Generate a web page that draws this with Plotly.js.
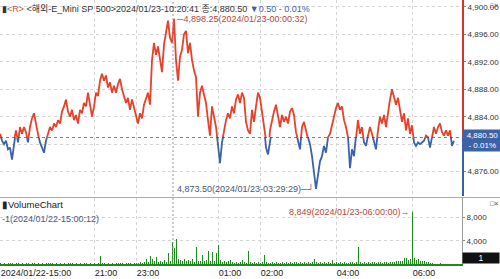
<!DOCTYPE html>
<html><head><meta charset="utf-8">
<script src="https://cdn.plot.ly/plotly-3.0.1.min.js"></script>
<style>html,body{margin:0;padding:0;background:#fff;}#chart{width:500px;height:279px;}</style>
</head><body><div id="chart"></div>
<script>
// ---- data ----
const basePrice = 4881.00;
const lastPrice = 4880.50;
const price = [
4881.5,4880.5,4880.0,4880.5,4879.25,4879.5,4877.75,4880.5,4882.0,4880.25,
4882.5,4881.5,4882.5,4881.75,4880.25,4882.5,4883.75,4884.5,4882.75,4881.5,
4880.25,4879.5,4878.75,4880.5,4881.5,4882.5,4882.0,4883.0,4882.5,4883.5,
4883.0,4884.75,4885.5,4886.5,4884.75,4884.0,4885.0,4883.5,4884.25,4883.0,
4885.0,4884.5,4886.0,4885.5,4887.5,4886.0,4884.0,4885.5,4887.5,4887.0,
4889.25,4890.25,4889.25,4890.0,4888.25,4889.0,4887.5,4888.5,4887.5,4888.75,
4889.5,4888.0,4887.0,4886.0,4886.75,4885.0,4886.5,4885.25,4884.25,4883.0,
4884.5,4883.75,4885.75,4886.5,4887.5,4885.75,4892.25,4894.75,4893.0,4894.25,
4892.0,4890.5,4894.5,4896.25,4898.0,4895.5,4894.75,4898.25,4892.25,4889.25,
4892.75,4893.75,4896.0,4896.5,4893.25,4894.75,4892.25,4890.75,4889.75,4884.0,
4887.5,4888.5,4887.0,4886.0,4883.5,4881.25,4885.5,4884.0,4882.5,4880.0,
4877.25,4880.25,4882.25,4883.5,4884.5,4883.75,4885.5,4884.5,4886.5,4887.25,
4886.0,4887.5,4886.75,4883.25,4882.0,4881.5,4885.0,4883.25,4885.5,4887.5,
4886.75,4884.75,4882.75,4879.5,4878.5,4882.0,4883.5,4884.75,4885.75,4883.75,
4882.5,4884.25,4883.25,4884.0,4883.0,4884.75,4885.25,4884.25,4881.75,4880.5,
4879.25,4882.5,4883.25,4882.0,4881.0,4880.0,4878.25,4876.25,4873.5,4875.5,
4877.5,4878.25,4879.75,4878.75,4881.0,4881.5,4882.75,4884.0,4885.25,4886.0,
4885.0,4885.5,4883.5,4882.5,4881.0,4876.5,4879.25,4878.25,4881.25,4883.5,
4881.5,4882.5,4880.25,4879.75,4881.25,4882.5,4881.5,4880.5,4879.25,4882.0,
4884.0,4883.0,4884.25,4882.5,4884.75,4886.5,4888.0,4887.0,4885.75,4886.75,
4884.75,4883.25,4884.5,4882.0,4883.75,4881.5,4882.75,4880.25,4879.75,4880.25,
4880.0,4880.25,4880.5,4881.25,4881.0,4879.5,4881.25,4882.5,4881.5,4882.5,
4883.0,4881.75,4881.25,4882.0,4881.25,4882.0,4879.75,4880.5
];
const volume = [
150,80,210,60,120,90,180,40,100,230,
70,140,60,110,190,50,90,160,80,130,
70,200,60,100,150,90,240,60,120,80,
170,70,110,60,140,90,100,80,130,60,
220,70,90,150,60,110,80,130,70,100,
1370,90,150,70,120,80,200,60,110,140,
90,180,70,120,100,160,80,130,90,150,
260,180,320,860,300,1400,900,450,1200,350,
500,300,650,420,1900,600,3830,2700,4240,800,
650,500,900,450,700,550,850,400,2970,600,
450,1550,500,700,2300,600,2100,500,1900,3200,
700,400,550,300,450,700,300,250,400,200,
350,700,300,250,2300,400,250,300,200,350,
250,300,1500,300,200,250,350,200,300,250,
200,300,250,350,200,300,250,400,300,250,
350,200,300,250,300,200,350,800,300,250,
350,200,300,250,300,200,700,250,300,200,
350,250,300,250,200,300,350,250,300,2970,
300,250,350,200,300,250,400,300,250,350,
300,250,300,350,200,300,400,350,450,500,
600,550,1000,1000,700,800,8849,1100,650,800,
500,450,600,350,300,200,100,60,80,50,
90,40,70,50,60,40,50,1
];
const tickIdx = [0, 47, 68, 109, 130, 168, 206];
const tickText = ["2024/01/22-15:00", "21:00", "23:00", "01:00", "02:00", "04:00", "06:00"];
const dateBreakIdx = 86.5;
const maxIdx = 87, maxLabel = "4,898.25(2024/01/23-00:00:32)";
const minIdx = 158, minLabel = "4,873.50(2024/01/23-03:29:29)";
const volMaxIdx = 206, volMaxLabel = "8,849(2024/01/23-06:00:00)";
const priceTicksUp = [4884, 4888, 4892, 4896, 4900];
const priceTicksDown = [4876, 4880];
const volTicks = [4000, 8000];

// ---- layout geometry ----
const W = 500, H = 279;
const plotRight = 462;
const pxPerUnit = 6.865;
const baseY = 137.3, mainBottom = 196, volTop = 198, volBottom = 264;
const idx = price.map((_, i) => i);
const upTop = basePrice + baseY / pxPerUnit;
const downBottom = basePrice - (mainBottom - baseY) / pxPerUnit;
const volPxPer4000 = 23.3;
const volMax = (volBottom - volTop) / volPxPer4000 * 4000;
const py = p => 1 - p / H;

const RED = '#e6412b', BLUE = '#3b63a8', GREEN = '#1e8a1e';
const FONT = 'Liberation Sans, Arial, Noto Sans CJK KR, sans-serif';
const grid = {showgrid: true, gridcolor: '#d4d4d4', griddash: '3px,3px', gridwidth: 1};

const traces = [
  {x: idx, y: price, type: 'scatter', mode: 'lines', xaxis: 'x', yaxis: 'y',
   line: {color: RED, width: 1.8}, hoverinfo: 'skip'},
  {x: idx, y: price, type: 'scatter', mode: 'lines', xaxis: 'x', yaxis: 'y2',
   line: {color: BLUE, width: 1.8}, hoverinfo: 'skip'},
  {x: idx, y: volume, type: 'bar', xaxis: 'x', yaxis: 'y3', width: 0.5,
   marker: {color: GREEN, line: {width: 0}}, hoverinfo: 'skip'}
];

const yCommon = {side: 'right', anchor: 'x', ticks: 'outside', ticklen: 2, tickcolor: '#888',
  tickfont: {family: FONT, size: 8, color: '#333'}, showline: true, linewidth: 2, zeroline: false, fixedrange: true};

const layout = {
  width: W, height: H, margin: {l: 0, r: W - plotRight, t: 0, b: 0},
  paper_bgcolor: '#fff', plot_bgcolor: '#fff', showlegend: false, bargap: 0,
  font: {family: FONT},
  xaxis: Object.assign({domain: [0, 1], range: [0, plotRight / 2], anchor: 'y3',
    tickvals: tickIdx, ticktext: tickText, ticks: '', ticklabelposition: 'outside right',
    tickfont: {family: FONT, size: 9, color: '#222'}, showline: true, linecolor: GREEN, linewidth: 1.5,
    zeroline: false, fixedrange: true}, grid),
  yaxis: Object.assign({}, yCommon, grid, {domain: [py(baseY), 1], range: [basePrice, upTop],
    tickvals: priceTicksUp, tickformat: ',.2f', linecolor: '#d9322a'}),
  yaxis2: Object.assign({}, yCommon, grid, {domain: [py(mainBottom), py(baseY)], range: [downBottom, basePrice],
    tickvals: priceTicksDown, ticktext: ['4,876.00', ''], linecolor: '#3a5fa5'}),
  yaxis3: Object.assign({}, yCommon, grid, {domain: [py(volBottom), py(volTop)], range: [0, volMax],
    tickvals: volTicks, tickformat: ',d', linecolor: '#999', linewidth: 1}),
  shapes: [
    {type: 'line', xref: 'x', yref: 'y2', x0: 0, x1: plotRight / 2, y0: basePrice, y1: basePrice,
     line: {color: '#333', width: 1, dash: '3px,3px'}},
    {type: 'line', xref: 'x', yref: 'paper', x0: dateBreakIdx, x1: dateBreakIdx, y0: py(volBottom), y1: 1,
     line: {color: '#999', width: 1, dash: '2px,2px'}},
    {type: 'line', xref: 'paper', yref: 'paper', x0: 0, x1: W / plotRight, y0: py(197.5), y1: py(197.5),
     line: {color: '#aaa', width: 1}}
  ],
  annotations: [
    {xref: 'paper', yref: 'paper', x: 0, y: py(8), xanchor: 'left', yanchor: 'middle', showarrow: false,
     font: {family: FONT, size: 9, color: '#333'},
     text: '▮<span style="color:#c0504d">&lt;R&gt;</span> &lt;해외-E_Mini SP 500&gt;2024/01/23-10:20:41 종:4,880.50 <span style="color:#3a5fa8">▼0.50 - 0.01%</span>'},
    {xref: 'x', yref: 'y', x: maxIdx, y: price[maxIdx], xanchor: 'left', yanchor: 'middle', showarrow: false,
     font: {family: FONT, size: 9, color: '#b9463a'}, text: '─' + maxLabel},
    {xref: 'x', yref: 'y2', x: minIdx, y: price[minIdx], xanchor: 'right', yanchor: 'middle', showarrow: false,
     font: {family: FONT, size: 9, color: '#44587c'}, text: minLabel + '─┘'},
    {xref: 'paper', yref: 'y2', x: 1, y: lastPrice, xanchor: 'left', yanchor: 'middle', showarrow: false,
     bgcolor: '#3d62a6', borderpad: 1, align: 'center', width: 37,
     font: {family: FONT, size: 8, color: '#fff'}, text: '4,880.50<br>- 0.01%'},
    {xref: 'paper', yref: 'paper', x: 0, y: py(204), xanchor: 'left', yanchor: 'middle', showarrow: false,
     font: {family: FONT, size: 9.5, color: '#222'}, text: '▮VolumeChart'},
    {xref: 'paper', yref: 'paper', x: 0, y: py(219), xanchor: 'left', yanchor: 'middle', showarrow: false,
     font: {family: FONT, size: 9, color: '#4a5a7e'}, text: '-1(2024/01/22-15:00:12)'},
    {xref: 'x', yref: 'y3', x: volMaxIdx, y: volume[volMaxIdx], xanchor: 'right', yanchor: 'middle', showarrow: false,
     font: {family: FONT, size: 9, color: '#b9463a'}, text: volMaxLabel + '→'},
    {xref: 'paper', yref: 'y3', x: 1, y: volume[volume.length - 1], xanchor: 'left', yanchor: 'bottom', showarrow: false,
     bgcolor: '#111', borderpad: 0, width: 36,
     font: {family: FONT, size: 8.5, color: '#fff'}, text: String(volume[volume.length - 1])},
    {xref: 'paper', yref: 'paper', x: 1, y: 1, xanchor: 'right', yanchor: 'top', showarrow: false,
     font: {family: FONT, size: 7, color: '#444'}, text: '□×', xshift: 38},
    {xref: 'paper', yref: 'paper', x: 1, y: py(198), xanchor: 'right', yanchor: 'top', showarrow: false,
     font: {family: FONT, size: 7, color: '#444'}, text: '□×', bgcolor: '#fff', xshift: 38}
  ]
};

Plotly.newPlot('chart', traces, layout, {staticPlot: true, displayModeBar: false});
</script></body></html>
